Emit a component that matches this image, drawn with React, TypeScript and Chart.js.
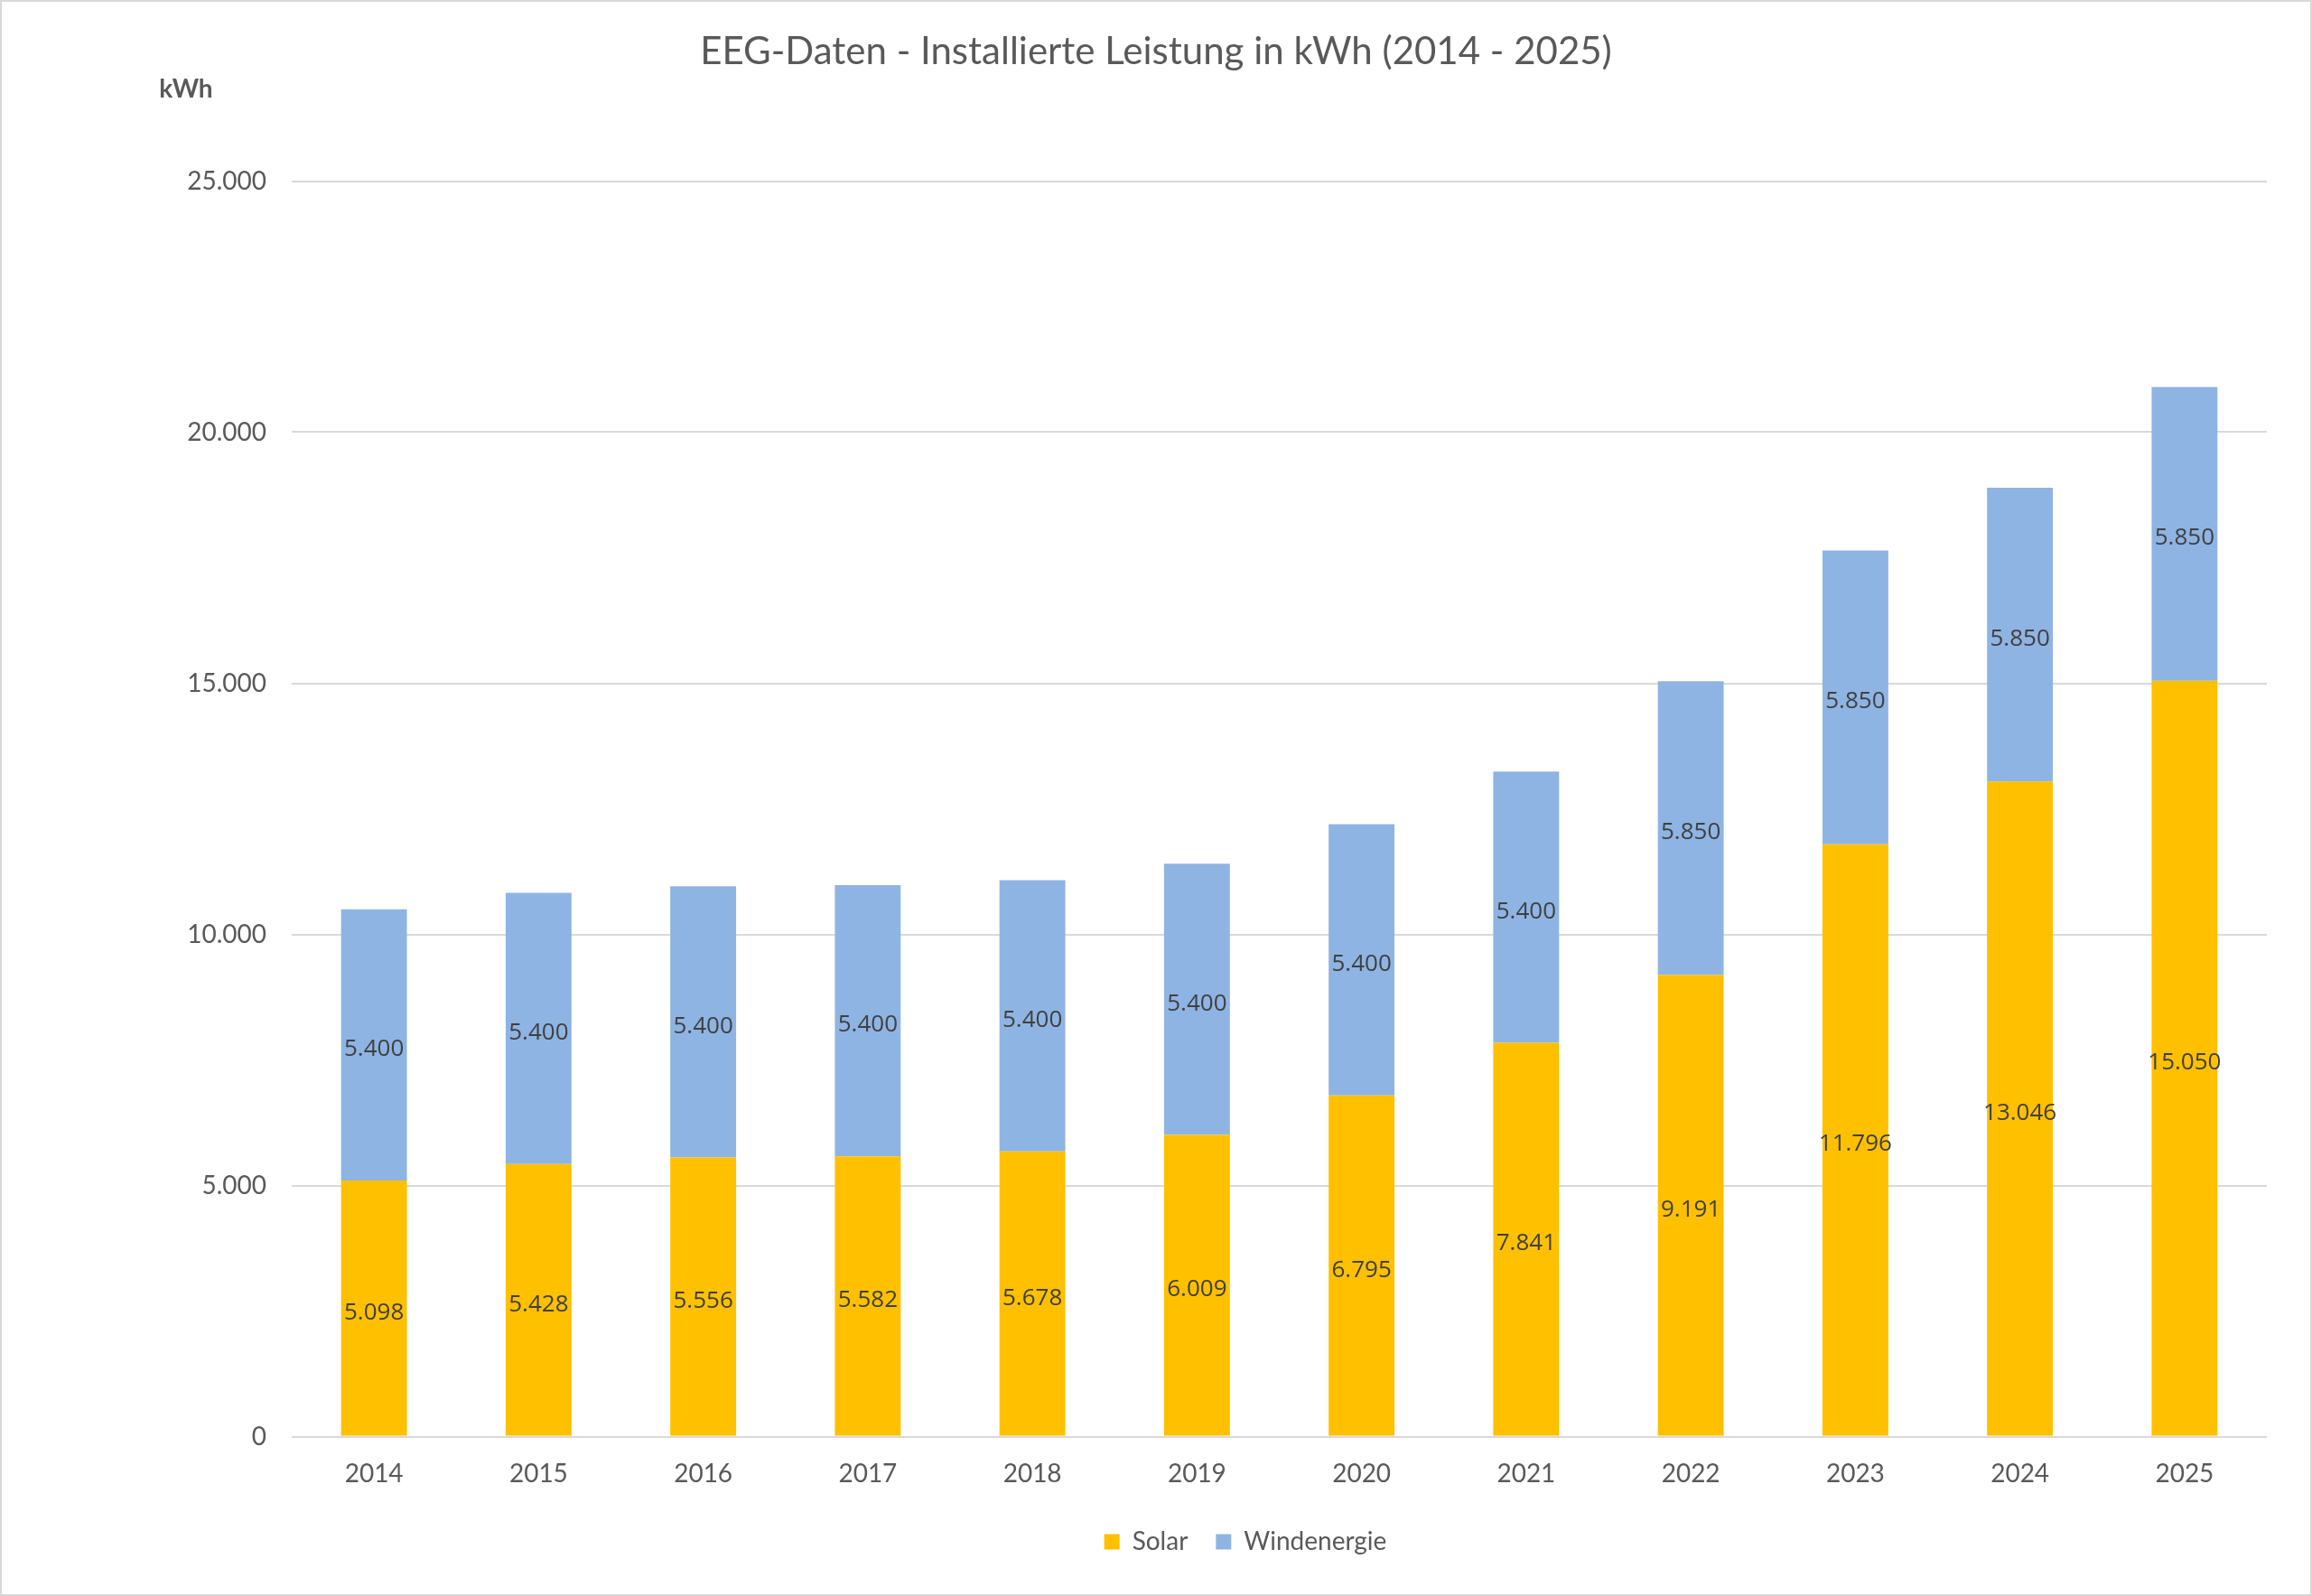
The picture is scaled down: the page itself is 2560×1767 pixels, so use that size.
import React, { useEffect, useRef } from 'react';
import { Chart, registerables } from 'chart.js';

Chart.register(...registerables);

const years = ['2014', '2015', '2016', '2017', '2018', '2019', '2020', '2021', '2022', '2023', '2024', '2025'];
const solar = [5098, 5428, 5556, 5582, 5678, 6009, 6795, 7841, 9191, 11796, 13046, 15050];
const wind = [5400, 5400, 5400, 5400, 5400, 5400, 5400, 5400, 5850, 5850, 5850, 5850];
const yTicks = [0, 5000, 10000, 15000, 20000, 25000];

const fmt = (v: number) => String(Math.round(v)).replace(/\B(?=(\d{3})+(?!\d))/g, '.');

const grey = '#595959';

// white background + thin frame like the Excel chart area
const framePlugin = {
  id: 'frame',
  beforeDraw(chart: any) {
    const { ctx, width, height } = chart;
    ctx.save();
    ctx.fillStyle = '#ffffff';
    ctx.fillRect(0, 0, width, height);
    ctx.strokeStyle = '#D9D9D9';
    ctx.lineWidth = 2;
    ctx.strokeRect(1, 1, width - 2, height - 2);
    ctx.restore();
  }
};

// values centred inside each bar segment
const barLabels = {
  id: 'barLabels',
  afterDatasetsDraw(chart: any) {
    const { ctx } = chart;
    ctx.save();
    ctx.font = '26px "Open Sans"';
    ctx.fillStyle = '#404040';
    ctx.textAlign = 'center';
    ctx.textBaseline = 'middle';
    chart.data.datasets.forEach((ds: any, i: number) => {
      const meta = chart.getDatasetMeta(i);
      meta.data.forEach((bar: any, j: number) => {
        ctx.fillText(fmt(ds.data[j]), bar.x, (bar.y + bar.base) / 2 + 5);
      });
    });
    ctx.restore();
  }
};

// "kWh" unit label above the value axis; title/legend nudged right like Excel
const extras = {
  id: 'extras',
  afterLayout(chart: any) {
    if (chart.titleBlock) {
      chart.titleBlock.left += 25;
      chart.titleBlock.right += 25;
    }
    if (chart.legend) {
      chart.legend.left += 124;
      chart.legend.right += 124;
    }
  },
  afterDraw(chart: any) {
    const { ctx, chartArea } = chart;
    ctx.save();
    ctx.font = 'bold 28px Lato';
    ctx.fillStyle = grey;
    ctx.textAlign = 'center';
    ctx.textBaseline = 'middle';
    ctx.fillText('kWh', chartArea.left - 117, chartArea.top - 102);
    ctx.restore();
  }
};

const App: React.FC = () => {
  const chartRef = useRef<HTMLCanvasElement | null>(null);

  useEffect(() => {
    document.body.style.margin = '0';
    let chart: Chart | undefined;
    if (chartRef.current) {
      chart = new Chart(chartRef.current, {
        type: 'bar',
        data: {
          labels: years,
          datasets: [
            {
              label: 'Solar',
              data: solar,
              backgroundColor: '#FFC000',
              categoryPercentage: 0.8,
              barPercentage: 0.5
            },
            {
              label: 'Windenergie',
              data: wind,
              backgroundColor: '#8EB4E3',
              categoryPercentage: 0.8,
              barPercentage: 0.5
            }
          ]
        },
        options: {
          animation: false,
          responsive: true,
          maintainAspectRatio: false,
          devicePixelRatio: 1,
          events: [],
          layout: {
            padding: { left: 0, right: 50, top: 0, bottom: 36 }
          },
          plugins: {
            title: {
              display: true,
              text: 'EEG-Daten - Installierte Leistung in kWh (2014 - 2025)',
              color: grey,
              font: { family: 'Lato', size: 42, weight: 'normal' },
              padding: { top: 32, bottom: 118.1 }
            },
            legend: {
              display: true,
              position: 'bottom',
              labels: {
                color: grey,
                font: { family: 'Lato', size: 28 },
                boxWidth: 17,
                boxHeight: 17,
                padding: 31
              }
            },
            tooltip: { enabled: false }
          },
          scales: {
            x: {
              stacked: true,
              grid: { display: false },
              border: { display: false },
              ticks: {
                color: grey,
                font: { family: 'Lato', size: 28 },
                padding: 17
              },
              afterFit(scale: any) {
                scale.height = 71.5;
              }
            },
            y: {
              stacked: true,
              min: yTicks[0],
              max: yTicks[yTicks.length - 1],
              grid: { color: '#D9D9D9', lineWidth: 2, drawTicks: false },
              border: { display: false },
              afterBuildTicks(scale: any) {
                scale.ticks = yTicks.map((v) => ({ value: v }));
              },
              ticks: {
                color: grey,
                font: { family: 'Lato', size: 28 },
                padding: 28,
                callback: (v: any) => fmt(Number(v))
              },
              afterFit(scale: any) {
                scale.width = 323;
              }
            }
          }
        },
        plugins: [framePlugin, barLabels, extras]
      });
    }
    return () => {
      if (chart) chart.destroy();
    };
  }, []);

  return (
    <div style={{ position: 'absolute', left: 0, top: 0, width: 2560, height: 1767 }}>
      <canvas ref={chartRef} />
    </div>
  );
};

export default App;
